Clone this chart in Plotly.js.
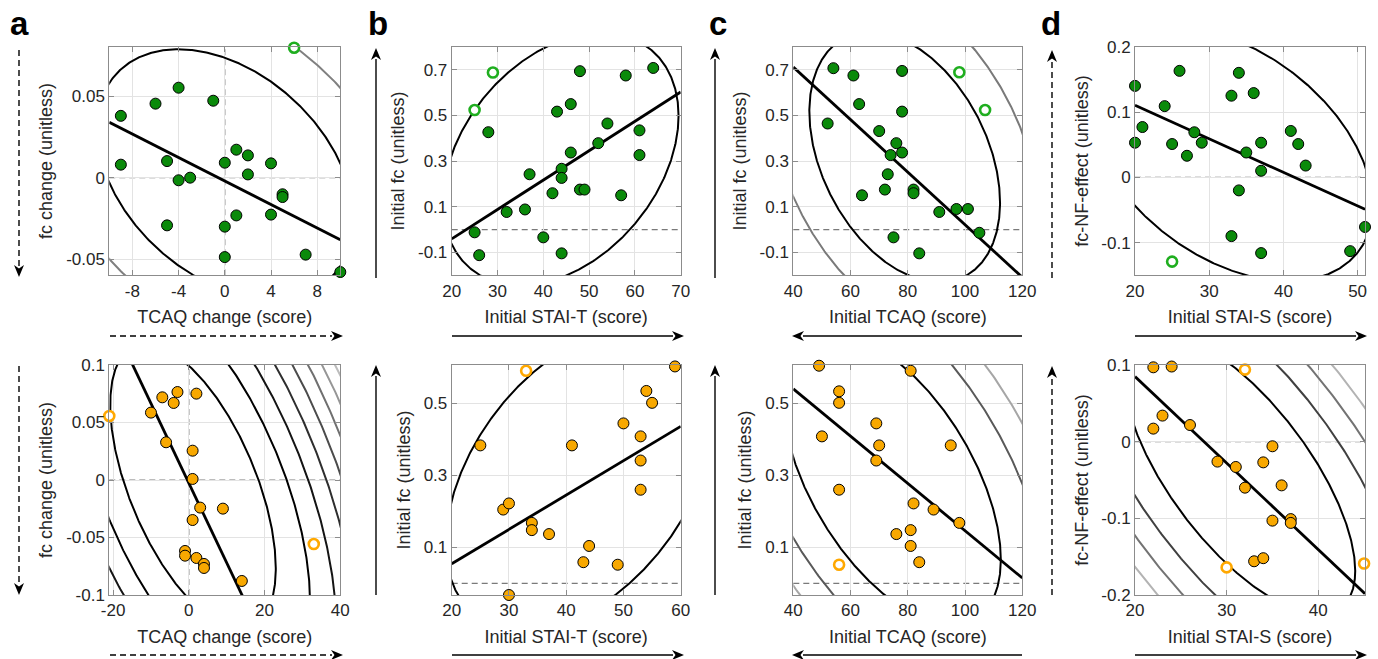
<!DOCTYPE html>
<html><head><meta charset="utf-8">
<script src="https://cdn.plot.ly/plotly-3.0.1.min.js"></script>
<style>html,body{margin:0;padding:0;background:#fff}#plot{width:1378px;height:659px}</style>
</head><body><div id="plot"></div>
<script>
// ---------------- data ----------------
// a, top: TCAQ change vs fc change (green); *Out* = open circles
const aTopX = [-9,-9,-6,-4,-1,-5,-4,-3,-5,0,1,2,2,4,5,5,1,4,0,0,7,10];
const aTopY = [0.038,0.008,0.0455,0.0553,0.0473,0.0102,-0.0016,0,-0.0293,0.0092,0.0172,0.0137,0.002,0.0088,-0.0102,-0.0119,-0.0232,-0.0227,-0.0301,-0.0488,-0.0473,-0.058];
const aTopOutX = [6];
const aTopOutY = [0.0799];
// b, top: initial STAI-T vs initial fc (green)
const bTopX = [28,25,26,32,36,37,40,42,43,44,44,44,46,46,48,48,49,52,54,57,58,61,61,64];
const bTopY = [0.426,-0.012,-0.112,0.077,0.088,0.242,-0.034,0.159,0.516,0.266,0.226,-0.104,0.549,0.337,0.693,0.175,0.175,0.378,0.464,0.150,0.674,0.434,0.326,0.707];
const bTopOutX = [25,29];
const bTopOutY = [0.523,0.687];
// c, top: initial TCAQ vs initial fc (green)
const cTopX = [54,61,52,63,78,78,70,76,74,78,73,72,64,82,82,91,97,101,105,75,84];
const cTopY = [0.706,0.674,0.464,0.549,0.694,0.516,0.431,0.378,0.326,0.337,0.242,0.175,0.150,0.175,0.159,0.077,0.090,0.090,-0.014,-0.034,-0.104];
const cTopOutX = [98,107];
const cTopOutY = [0.688,0.523];
// d, top: initial STAI-S vs fc-NF-effect (green)
const dTopX = [20,20,21,24,25,26,27,28,29,33,33,34,34,35,36,37,37,37,41,42,43,49,51];
const dTopY = [0.140,0.053,0.077,0.109,0.051,0.163,0.033,0.069,0.053,0.125,-0.090,0.160,-0.020,0.038,0.129,0.053,0.010,-0.116,0.071,0.051,0.018,-0.113,-0.076];
const dTopOutX = [25];
const dTopOutY = [-0.129];
// a, bottom (orange)
const aBotX = [-7,-3,-4,2,-10,-6,1,1,3,9,1,-1,-1,2,4,4,14];
const aBotY = [0.0719,0.0765,0.067,0.0751,0.0586,0.0328,0.0255,0.0009,-0.024,-0.0249,-0.0348,-0.0617,-0.0658,-0.0678,-0.073,-0.0765,-0.0878];
const aBotOutX = [-21,33];
const aBotOutY = [0.0557,-0.0557];
// b, bottom (orange)
const bBotX = [25,29,30,34,34,37,41,43,44,49,50,53,53,53,54,55,59,30];
const bBotY = [0.383,0.205,0.222,0.168,0.148,0.137,0.383,0.059,0.104,0.052,0.444,0.408,0.341,0.260,0.534,0.501,0.602,-0.032];
const bBotOutX = [33];
const bBotOutY = [0.590];
// c, bottom (orange)
const cBotX = [49,56,56,50,69,70,69,56,81,95,82,89,98,76,81,81,84];
const cBotY = [0.604,0.533,0.501,0.408,0.444,0.383,0.341,0.260,0.590,0.383,0.222,0.205,0.168,0.137,0.148,0.104,0.059];
const cBotOutX = [56,116.5];
const cBotOutY = [0.052,-0.033];
// d, bottom (orange)
const dBotX = [22,24,23,22,26,29,31,32,34,35,36,35,37,37,33,34];
const dBotY = [0.097,0.098,0.034,0.017,0.0217,-0.026,-0.033,-0.060,-0.027,-0.006,-0.057,-0.103,-0.101,-0.106,-0.156,-0.152];
const dBotOutX = [32,30,45];
const dBotOutY = [0.094,-0.164,-0.159];

// tick values / labels
const tA1x = [-8,-4,0,4,8], tA1xl = ['-8','-4','0','4','8'];
const tA1y = [-0.05,0,0.05], tA1yl = ['-0.05','0','0.05'];
const tB1x = [20,30,40,50,60,70], tB1xl = ['20','30','40','50','60','70'];
const tFc1y = [-0.1,0.1,0.3,0.5,0.7], tFc1yl = ['-0.1','0.1','0.3','0.5','0.7'];
const tC1x = [40,60,80,100,120], tC1xl = ['40','60','80','100','120'];
const tD1x = [20,30,40,50], tD1xl = ['20','30','40','50'];
const tD1y = [-0.1,0,0.1,0.2], tD1yl = ['-0.1','0','0.1','0.2'];
const tA2x = [-20,0,20,40], tA2xl = ['-20','0','20','40'];
const tA2y = [-0.1,-0.05,0,0.05,0.1], tA2yl = ['-0.1','-0.05','0','0.05','0.1'];
const tB2x = [20,30,40,50,60], tB2xl = ['20','30','40','50','60'];
const tFc2y = [0.1,0.3,0.5], tFc2yl = ['0.1','0.3','0.5'];
const tD2x = [20,30,40], tD2xl = ['20','30','40'];
const tD2y = [-0.2,-0.1,0,0.1], tD2yl = ['-0.2','-0.1','0','0.1'];

// ---------------- layout / style ----------------
const W = 1378, H = 659;
const FONT = '"Liberation Sans", Arial, Helvetica, sans-serif';
const TXT = '#262626', AXC = '#8c8c8c', GRID = '#e3e3e3';
const GREEN = '#0a8a0a', GREEN_OPEN = '#1fae1f', ORANGE = '#f8a800', ORANGE_OPEN = '#ffa800';
const COLS = [[109.3,340.3],[451.7,680.7],[793.3,1022.3],[1135,1365]];
const ROWS = [[46.7,275.3],[365,595]];

// lev: colours of the Mahalanobis-distance contours (level k at d^2 = k*step)
const panels = [
  {c:0,r:0,X:aTopX,Y:aTopY,OX:aTopOutX,OY:aTopOutY,fill:GREEN,open:GREEN_OPEN,xr:[-10,10],yr:[-0.06,0.0805],xt:tA1x,xtl:tA1xl,yt:tA1y,ytl:tA1yl,xtitle:'TCAQ change (score)',ytitle:'fc change (unitless)',vzero:true,step:4.8,lev:['#000','#808080']},
  {c:1,r:0,X:bTopX,Y:bTopY,OX:bTopOutX,OY:bTopOutY,fill:GREEN,open:GREEN_OPEN,xr:[20,70],yr:[-0.2,0.8],xt:tB1x,xtl:tB1xl,yt:tFc1y,ytl:tFc1yl,xtitle:'Initial STAI-T (score)',ytitle:'Initial fc (unitless)',step:4.9,lev:['#000']},
  {c:2,r:0,X:cTopX,Y:cTopY,OX:cTopOutX,OY:cTopOutY,fill:GREEN,open:GREEN_OPEN,xr:[40,120],yr:[-0.2,0.8],xt:tC1x,xtl:tC1xl,yt:tFc1y,ytl:tFc1yl,xtitle:'Initial TCAQ (score)',ytitle:'Initial fc (unitless)',step:4.7,lev:['#000','#7a7a7a']},
  {c:3,r:0,X:dTopX,Y:dTopY,OX:dTopOutX,OY:dTopOutY,fill:GREEN,open:GREEN_OPEN,xr:[20,51],yr:[-0.15,0.2],xt:tD1x,xtl:tD1xl,yt:tD1y,ytl:tD1yl,xtitle:'Initial STAI-S (score)',ytitle:'fc-NF-effect (unitless)',step:5.0,lev:['#000']},
  {c:0,r:1,X:aBotX,Y:aBotY,OX:aBotOutX,OY:aBotOutY,fill:ORANGE,open:ORANGE_OPEN,xr:[-21,40],yr:[-0.1,0.1],xt:tA2x,xtl:tA2xl,yt:tA2y,ytl:tA2yl,xtitle:'TCAQ change (score)',ytitle:'fc change (unitless)',vzero:true,step:4.2,lev:['#000','#000','#141414','#2e2e2e','#4c4c4c','#707070','#969696','#bcbcbc','#dedede']},
  {c:1,r:1,X:bBotX,Y:bBotY,OX:bBotOutX,OY:bBotOutY,fill:ORANGE,open:ORANGE_OPEN,xr:[20,60],yr:[-0.032,0.606],xt:tB2x,xtl:tB2xl,yt:tFc2y,ytl:tFc2yl,xtitle:'Initial STAI-T (score)',ytitle:'Initial fc (unitless)',step:4.8,lev:['#000']},
  {c:2,r:1,X:cBotX,Y:cBotY,OX:cBotOutX,OY:cBotOutY,fill:ORANGE,open:ORANGE_OPEN,xr:[40,120],yr:[-0.032,0.606],xt:tC1x,xtl:tC1xl,yt:tFc2y,ytl:tFc2yl,xtitle:'Initial TCAQ (score)',ytitle:'Initial fc (unitless)',step:4.4,lev:['#000','#595959','#a6a6a6']},
  {c:3,r:1,X:dBotX,Y:dBotY,OX:dBotOutX,OY:dBotOutY,fill:ORANGE,open:ORANGE_OPEN,xr:[20,45.1],yr:[-0.2,0.1],xt:tD2x,xtl:tD2xl,yt:tD2y,ytl:tD2yl,xtitle:'Initial STAI-S (score)',ytitle:'fc-NF-effect (unitless)',step:4.4,lev:['#000','#404040','#737373','#b3b3b3']}
];

function stats(xs, ys){
  const n = xs.length; let mx=0,my=0;
  for(let i=0;i<n;i++){mx+=xs[i];my+=ys[i];}
  mx/=n; my/=n;
  let sxx=0,syy=0,sxy=0;
  for(let i=0;i<n;i++){const dx=xs[i]-mx,dy=ys[i]-my;sxx+=dx*dx;syy+=dy*dy;sxy+=dx*dy;}
  return {mx,my,sxx:sxx/(n-1),syy:syy/(n-1),sxy:sxy/(n-1)};
}

const traces = [], shapes = [], annotations = [], layout = {};
panels.forEach((p,i)=>{
  const k = i+1, xa = 'x'+(k===1?'':k), ya = 'y'+(k===1?'':k);
  const xname = 'xaxis'+(k===1?'':k), yname = 'yaxis'+(k===1?'':k);
  const [l,rgt] = COLS[p.c], [t,b] = ROWS[p.r];
  const axBase = {showline:true,linecolor:AXC,linewidth:1,mirror:'ticks',ticks:'inside',ticklen:5,tickcolor:AXC,tickwidth:1,
    showgrid:true,gridcolor:GRID,gridwidth:1,zeroline:false,tickmode:'array',tickfont:{family:FONT,size:17,color:TXT},fixedrange:true};
  layout[xname] = Object.assign({}, axBase, {domain:[l/W,rgt/W],range:p.xr,anchor:ya,tickvals:p.xt,ticktext:p.xtl,
    title:{text:p.xtitle,font:{family:FONT,size:18,color:TXT},standoff:10}});
  layout[yname] = Object.assign({}, axBase, {domain:[1-b/H,1-t/H],range:p.yr,anchor:xa,tickvals:p.yt,ticktext:p.ytl,
    title:{text:p.ytitle,font:{family:FONT,size:18,color:TXT},standoff:8}});
  // dashed zero lines
  shapes.push({type:'line',xref:xa+' domain',yref:ya,x0:0,x1:1,y0:0,y1:0,line:{color:'#7a7a7a',width:1.2,dash:'6px,4px'},layer:'below'});
  if(p.vzero) shapes.push({type:'line',xref:xa,yref:ya+' domain',x0:0,x1:0,y0:0,y1:1,line:{color:'#7a7a7a',width:1.2,dash:'6px,4px'},layer:'below'});
  // Mahalanobis-distance contours from the covariance of all the points of the panel
  const s = stats(p.X.concat(p.OX), p.Y.concat(p.OY));
  const L11=Math.sqrt(s.sxx), L21=s.sxy/L11, L22=Math.sqrt(s.syy-L21*L21);
  for(let lv=p.lev.length; lv>=1; lv--){
    const rr = Math.sqrt(lv*p.step), ex=[], ey=[];
    for(let j=0;j<=720;j++){const a=j*Math.PI/360,u=Math.cos(a),v=Math.sin(a);ex.push(s.mx+rr*L11*u);ey.push(s.my+rr*(L21*u+L22*v));}
    traces.push({x:ex,y:ey,xaxis:xa,yaxis:ya,mode:'lines',line:{color:p.lev[lv-1],width:2},hoverinfo:'skip',showlegend:false});
  }
  // least-squares line through the filled points
  const f = stats(p.X,p.Y);
  const slope = f.sxy/f.sxx, icpt = f.my - slope*f.mx;
  traces.push({x:p.xr,y:p.xr.map(v=>icpt+slope*v),xaxis:xa,yaxis:ya,mode:'lines',line:{color:'#000',width:2.8},hoverinfo:'skip',showlegend:false});
  // points
  traces.push({x:p.X,y:p.Y,xaxis:xa,yaxis:ya,mode:'markers',cliponaxis:false,marker:{size:11,color:p.fill,line:{color:'#000',width:1}},showlegend:false});
  traces.push({x:p.OX,y:p.OY,xaxis:xa,yaxis:ya,mode:'markers',cliponaxis:false,marker:{size:10,color:'#fff',line:{color:p.open,width:2.6}},showlegend:false});
});

// direction arrows (pixel positions -> paper)
const PX = x=>x/W, PY = y=>1-y/H;
function arrow(x0,y0,x1,y1,dashed){
  const len=Math.hypot(x1-x0,y1-y0), dx=(x1-x0)/len, dy=(y1-y0)/len, nx=-dy, ny=dx;
  const L=12, w=5, notch=3.5;
  const bx=x1-dx*(L-1), by=y1-dy*(L-1);
  shapes.push({type:'line',xref:'paper',yref:'paper',x0:PX(x0),y0:PY(y0),x1:PX(bx),y1:PY(by),line:{color:'#000',width:1.4,dash:dashed?'6px,4px':'solid'}});
  const pts=[[x1,y1],[x1-dx*L+nx*w,y1-dy*L+ny*w],[x1-dx*(L-notch),y1-dy*(L-notch)],[x1-dx*L-nx*w,y1-dy*L-ny*w]];
  const path='M '+pts.map(q=>PX(q[0]).toFixed(5)+' '+PY(q[1]).toFixed(5)).join(' L ')+' Z';
  shapes.push({type:'path',xref:'paper',yref:'paper',path:path,fillcolor:'#000',line:{width:0}});
}
arrow(19,50,19,277,true);  arrow(19,366,19,595,true);
arrow(376,278,376,48,false); arrow(376,595,376,365,false);
arrow(715,278,715,48,false); arrow(715,595,715,365,false);
arrow(1052,278,1052,50,true); arrow(1052,595,1052,366,true);
arrow(110,336,343,336,true); arrow(110,655,343,655,true);
arrow(452,336,684,336,false); arrow(452,655,684,655,false);
arrow(1022,336,792,336,false); arrow(1022,655,792,655,false);
arrow(1135,336,1367,336,false); arrow(1135,655,1367,655,false);

// panel letters
[['a',8],['b',366],['c',707],['d',1039]].forEach(([t,x])=>{
  annotations.push({text:'<b>'+t+'</b>',xref:'paper',yref:'paper',x:PX(x),y:PY(24),xanchor:'left',yanchor:'middle',showarrow:false,font:{family:FONT,size:33,color:'#000'}});
});

Object.assign(layout,{width:W,height:H,margin:{l:0,r:0,t:0,b:0},paper_bgcolor:'#fff',plot_bgcolor:'#fff',showlegend:false,shapes,annotations,font:{family:FONT,color:TXT}});
Plotly.newPlot('plot',traces,layout,{staticPlot:true,displayModeBar:false});
</script></body></html>
